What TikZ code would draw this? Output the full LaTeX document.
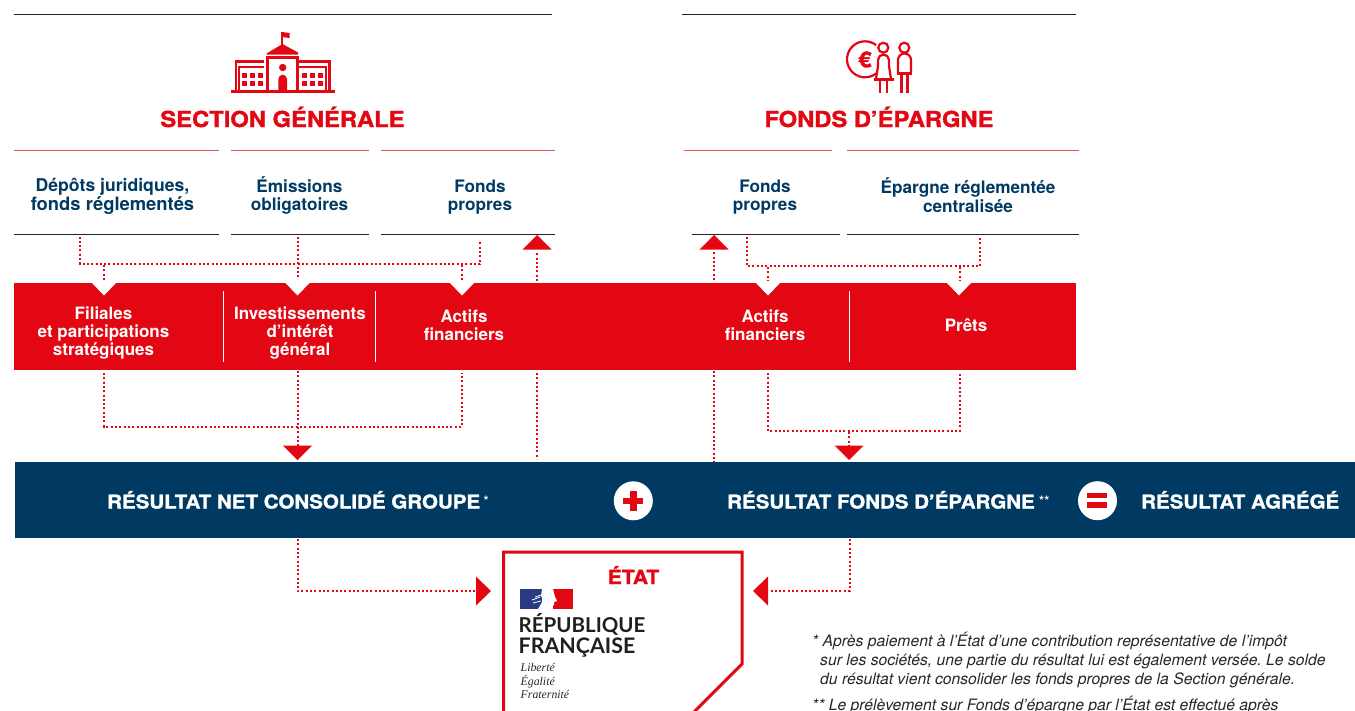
\documentclass[tikz,border=0pt]{standalone}
\usepackage{fontspec}
\setmainfont{TeX Gyre Heros}
\newfontfamily\headfont[FakeStretch=1.08,BoldFeatures={FakeStretch=1.08,FakeBold=1.4}]{TeX Gyre Heros}
\newfontfamily\repfont{Lato}
\newfontfamily\devise{Liberation Serif}
\definecolor{rouge}{HTML}{E30613}
\definecolor{marine}{HTML}{003A63}
\definecolor{drapeau}{HTML}{2A3B84}
\tikzset{
  dotline/.style={rouge,line width=2pt,dash pattern=on 2pt off 2.3pt,line join=miter},
  blackrule/.style={draw=black!85,line width=0.9pt},
  redrule/.style={draw=rouge!70,line width=0.9pt},
  sep/.style={draw=white,line width=1pt},
  head/.style={text=rouge,font=\headfont\bfseries\fontsize{22}{24}\selectfont,inner sep=0pt},
  toplab/.style={text=marine,font=\bfseries\fontsize{17.2}{18.4}\selectfont,align=center,inner sep=0pt},
  bandlab/.style={text=white,font=\bfseries\fontsize{17}{17.6}\selectfont,align=center,inner sep=0pt},
  navylab/.style={text=white,font=\headfont\bfseries\fontsize{19}{21}\selectfont,inner sep=0pt,anchor=base west},
  supmark/.style={text=white,font=\bfseries\fontsize{13}{14}\selectfont,inner sep=0pt,anchor=base west},
  note/.style={text=black!85,font=\frenchspacing\itshape\fontsize{15.7}{17}\selectfont,inner sep=0pt,anchor=base west},
  motto/.style={text=black!85,font=\devise\itshape\fontsize{11.8}{13}\selectfont,inner sep=0pt,anchor=base west},
  rep/.style={text=black!88,font=\repfont\bfseries\fontsize{20.5}{22}\selectfont,inner sep=0pt,anchor=base west},
  tri/.style={fill=rouge},
  notch/.style={fill=white},
  iconfill/.style={fill=rouge},
  iconline/.style={draw=rouge,line width=2.2pt},
}
\begin{document}
\begin{tikzpicture}[x=1pt,y=-1pt]
\useasboundingbox (0,0) rectangle (1355,710);
\clip (0,0) rectangle (1355,710);
% rules
\draw[blackrule] (14,14)--(552,14);
\draw[blackrule] (682,14)--(1076,14);
\foreach \a/\b in {14/219,231/369,381/555,684/832,847/1079}{\draw[redrule] (\a,150)--(\b,150);}
\foreach \a/\b in {14/219,231/369,381/555,692/840,847/1079}{\draw[blackrule] (\a,234.5)--(\b,234.5);}
% headings
\node[head] (hsec) at (282.5,117) {SECTION GÉNÉRALE};
\node[head] (hfon) at (879,117) {FONDS D’ÉPARGNE};
% school icon
\fill[iconfill] (231,90) rectangle (335,93);
\draw[rouge,line width=1.8pt] (282,45)--(282,32);
\fill[iconfill] (282,32)--(289.5,33)--(289.5,38)--(282,37)--cycle;
\fill[iconfill] (266.5,53.5)--(282.5,44)--(298,52.5)--(298,54.5)--(266.5,54.5)--cycle;
\draw[iconline] (267.5,91)--(267.5,57.5)--(297.5,57.5)--(297.5,91);
\fill[iconfill] (282.7,67.5) circle (3.7);
\fill[iconfill] (278.4,91)--(278.4,79) arc (180:360:4.3)--(287,91)--cycle;
\draw[iconline] (264,61.5)--(236,61.5)--(236,91);
\draw[iconline] (264,67)--(239,67)--(239,91);
\draw[iconline] (298,61.5)--(329.5,61.5)--(329.5,91);
\draw[iconline] (297,67)--(326,67)--(326,91);
\foreach \x in {242,250,258,302,310,318}\foreach \y in {73,81}{\fill[iconfill] (\x,\y) rectangle ++(5.2,4.8);}
% people icon
\draw[iconline] (876.1,73.5) arc (52:308:18);
\node[text=rouge,font=\headfont\bfseries\fontsize{22}{22}\selectfont,inner sep=0pt] (euro) at (865,59.5) {€};
\draw[iconline] (883.3,47.7) circle (5);
\draw[iconline] (904.3,47.7) circle (5);
\draw[iconline,line join=round] (876,79)--(878,66)--(878,60) arc (180:360:5.5)--(889,66)--(891,79);
\draw[rouge,line width=2.6pt] (873.5,79.3)--(893.5,79.3);
\draw[rouge,line width=2pt] (880,79)--(880,93);
\draw[rouge,line width=2pt] (886.8,79)--(886.8,93);
\draw[iconline] (898,73)--(898,60) arc (180:360:6.5)--(911,73);
\draw[rouge,line width=2.6pt] (897,73.5)--(912,73.5);
\draw[rouge,line width=2.6pt] (901.2,73)--(901.2,93);
\draw[rouge,line width=2.6pt] (907.5,73)--(907.5,93);
% top labels
\node[toplab] (t1) at (112.5,196.5) {\fontsize{17.6}{18.4}\selectfont Dépôts juridiques,\\\fontsize{18.4}{18.4}\selectfont fonds réglementés};
\node[toplab] (t2) at (299.5,195.5) {Émissions\\obligatoires};
\node[toplab] (t3) at (480,197) {Fonds\\propres};
\node[toplab] (t4) at (765,197) {Fonds\\propres};
\node[toplab] (t5) at (968,195) {Épargne réglementée\\centralisée};
% red band
\node[fill=rouge,minimum width=1062pt,minimum height=87pt,inner sep=0pt,anchor=north west] (band) at (14,283) {};
\draw[sep] (223,291)--(223,361.5);
\draw[sep] (375.5,291)--(375.5,361.5);
\draw[sep] (849.5,291)--(849.5,361.5);
\foreach \x in {104,297.5,462,768,959}{\fill[notch] (\x-12.5,282.5)--(\x+12.5,282.5)--(\x,295.5)--cycle;}
\node[bandlab] (b1) at (103.5,333) {Filiales\\et participations\\stratégiques};
\node[bandlab] (b2) at (300,333) {Investissements\\d’intérêt\\général};
\node[bandlab] (b3) at (464,325.5) {Actifs\\financiers};
\node[bandlab] (b4) at (765,325.5) {Actifs\\financiers};
\node[bandlab] (b5) at (966,325) {Prêts};
% navy band
\node[fill=marine,minimum width=1340pt,minimum height=76pt,inner sep=0pt,anchor=north west] (navy) at (15,462) {};
\node[navylab] (n1) at (107,508.5) {RÉSULTAT NET CONSOLIDÉ GROUPE};
\node[supmark] (s1) at (483.5,505) {*};
\node[fill=white,circle,minimum size=39pt,inner sep=0pt] (plus) at (633.3,500.8) {};
\fill[rouge] (623.3,497.7) rectangle (643.3,504.3);
\fill[rouge] (630,491) rectangle (636.6,511);
\node[navylab] (n2) at (727,508.5) {RÉSULTAT FONDS D’ÉPARGNE};
\node[supmark] (s2) at (1039,505) {**};
\node[fill=white,circle,minimum size=39pt,inner sep=0pt] (egal) at (1097.5,500.7) {};
\fill[rouge] (1087,493) rectangle (1107,498);
\fill[rouge] (1087,502) rectangle (1107,507.7);
\node[navylab] (n3) at (1141,508.5) {RÉSULTAT AGRÉGÉ};
% coordinates of connectors
\foreach \n/\x/\y in {a1/80/236.5,a2/80/264,a3/480/264,a4/480/240,a5/104/265,a6/104/281,a7/462/265,a8/462/280,
  c1/297.5/236.5,c2/297.5/278,
  d1/747/237,d2/747/266,d3/980/266,d4/980/236,d5/768/267,d6/768/281,d7/960/267,d8/960/281,
  u1/537/281,u2/537/251,u3/537/459,u4/537/373,v1/714/280,v2/714/251,v3/714/462,v4/714/371,
  e1/104/373,e2/104/426.5,e3/462/426.5,e4/462/373,e5/297.5/371,e6/297.5/446,
  f1/768/373,f2/768/431,f3/960/431,f4/960/373,f5/849/432,f6/849/446,
  g1/297.5/539,g2/297.5/591,g3/475/591,h1/849.5/539,h2/849.5/591,h3/770/591,
  tu1/537/235,tu2/714/235,td1/297.5/460,td2/849/460,tr/491/591,tl/753/591}{\coordinate (\n) at (\x,\y);}
% dotted connectors
\draw[dotline] (a1)--(a2)--(a3)--(a4);
\draw[dotline] (a5)--(a6);
\draw[dotline] (a7)--(a8);
\draw[dotline] (c1)--(c2);
\draw[dotline] (d1)--(d2)--(d3)--(d4);
\draw[dotline] (d5)--(d6);
\draw[dotline] (d7)--(d8);
\draw[dotline] (u1)--(u2);
\draw[dotline] (u4)--(u3);
\draw[dotline] (v1)--(v2);
\draw[dotline] (v4)--(v3);
\draw[dotline] (e1)--(e2)--(e3)--(e4);
\draw[dotline] (e5)--(e6);
\draw[dotline] (f1)--(f2)--(f3)--(f4);
\draw[dotline] (f5)--(f6);
\draw[dotline] (g1)--(g2)--(g3);
\draw[dotline] (h1)--(h2)--(h3);
% arrowheads
\fill[tri] (tu1)--++(14.5,14.5)--++(-29,0)--cycle;
\fill[tri] (tu2)--++(14.5,14.5)--++(-29,0)--cycle;
\fill[tri] (td1)--++(14.5,-14.5)--++(-29,0)--cycle;
\fill[tri] (td2)--++(14.5,-14.5)--++(-29,0)--cycle;
\fill[tri] (tr)--++(-15,-14.5)--++(0,29)--cycle;
\fill[tri] (tl)--++(15,-14.5)--++(0,29)--cycle;
% Etat box
\draw[rouge,line width=3pt,line join=miter] (503.5,730)--(503.5,552)--(742,552)--(742,664)--(676,730);
\node[text=rouge,font=\headfont\bfseries\fontsize{19.5}{20}\selectfont,inner sep=0pt,anchor=base] (etat) at (633.5,584) {ÉTAT};
% flag
\fill[drapeau] (520,589) rectangle (542,609);
\fill[rouge] (553,589) rectangle (573,609);
\fill[white] (542,589)--(553,589)--(554,593)--(555,597)--(557,601)--(554,602)--(554,605)--(550,607)--(549,609)--(538,609)--(541,604)--(543,600)--(541,596)--cycle;
\draw[white,line width=0.8pt] (532,600)--(540,597) (533,603)--(541,601) (535,597)--(541,595);
% motto
\node[rep] (r1) at (518.5,632.5) {RÉPUBLIQUE};
\node[rep] (r2) at (518.5,653) {\fontsize{21.4}{22}\selectfont FRANÇAISE};
\node[motto] (m1) at (520.5,671.5) {Liberté};
\node[motto] (m2) at (520.5,685) {Égalité};
\node[motto] (m3) at (520.5,698) {Fraternité};
% notes
\node[note] (f1n) at (812,646.5) {* Après paiement à l’État d’une contribution représentative de l’impôt};
\node[note] (f2n) at (820,665.5) {sur les sociétés, une partie du résultat lui est également versée. Le solde};
\node[note] (f3n) at (820,684.5) {du résultat vient consolider les fonds propres de la Section générale.};
\node[note] (f4n) at (812,710.5) {** Le prélèvement sur Fonds d’épargne par l’État est effectué après};
\end{tikzpicture}
\end{document}
